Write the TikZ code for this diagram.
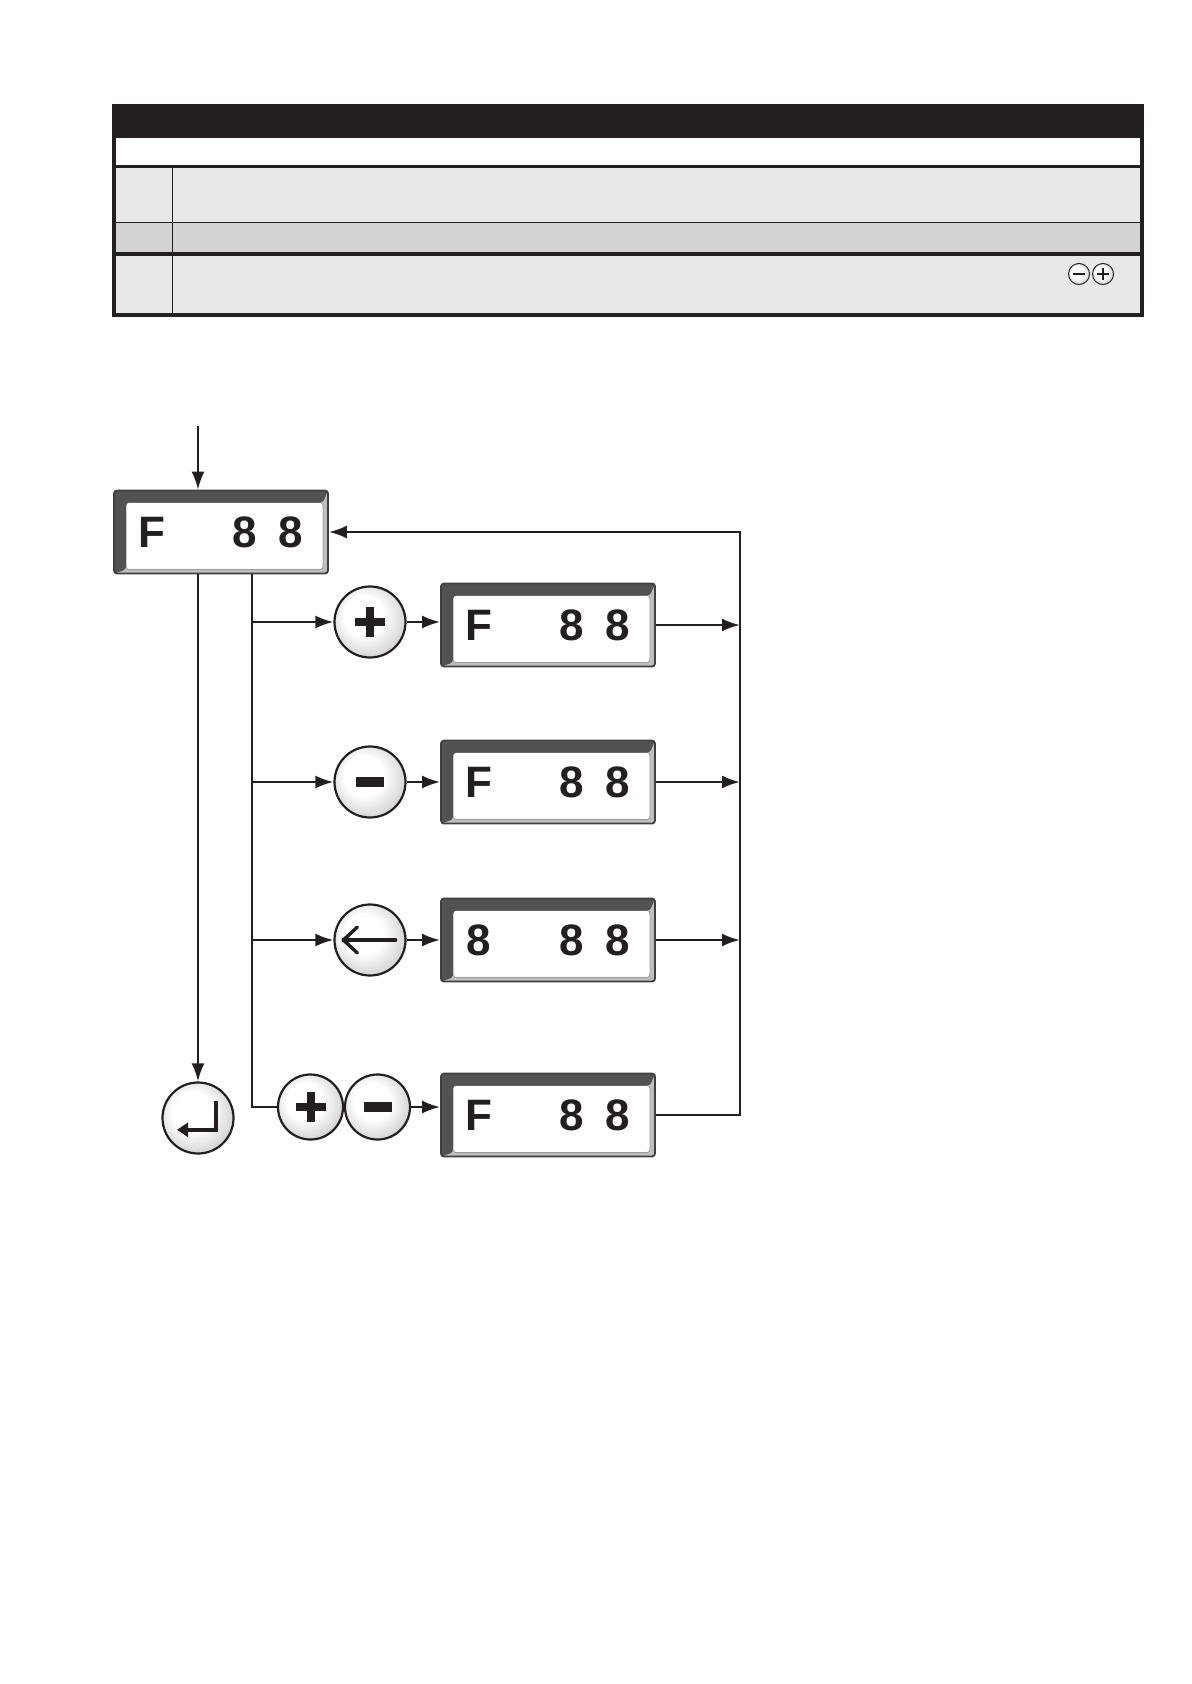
\documentclass[tikz,border=0pt]{standalone}
\usepackage{fontspec}
\setmainfont{Liberation Sans}
\usetikzlibrary{arrows.meta,calc}
\definecolor{ink}{HTML}{231F20}
\definecolor{rowlight}{HTML}{E8E8E8}
\definecolor{rowdark}{HTML}{D3D3D3}
\pgfdeclareradialshading{silver}{\pgfpoint{-6bp}{6bp}}{color(0bp)=(white); color(14bp)=(white); color(32bp)=(black!22); color(50bp)=(black!50)}
\newcommand\dispchars[2]{%
  \node[digit] (#1c1) at ([xshift=-34.5pt]#1.center) {#2};
  \node[digit] (#1c2) at ([xshift=11.75pt]#1.center) {8};
  \node[digit] (#1c3) at ([xshift=34.75pt]#1.center) {8};}
\newcommand\plussign[1]{%
  \draw[ink, line width=4pt] ([xshift=-7.5pt]#1.center) -- ([xshift=7.5pt]#1.center);
  \draw[ink, line width=4pt] ([yshift=-7.5pt]#1.center) -- ([yshift=7.5pt]#1.center);}
\newcommand\minussign[1]{%
  \fill[ink] ([xshift=-7pt,yshift=-2.3pt]#1.center) rectangle ([xshift=7pt,yshift=2.3pt]#1.center);}
\begin{document}
\begin{tikzpicture}[x=0.5pt,y=-0.5pt,
  line/.style={draw=ink, line width=1.2pt},
  arr/.style={line, -{Latex[length=9pt,width=6.5pt]}},
  digit/.style={font=\fontsize{22}{22}\selectfont\bfseries, text=ink, inner sep=0pt, anchor=center},
  btn/.style={circle, draw=ink, line width=1.1pt, minimum size=35.5pt, inner sep=0pt, shading=silver},
  btnsmall/.style={btn, minimum size=32.5pt},
  btntiny/.style={circle, draw=ink, line width=0.5pt, minimum size=10.5pt, inner sep=0pt, shading=silver},
  disp/.style={rectangle, rounded corners=1.5pt, minimum width=107pt, minimum height=41.5pt,
    inner sep=0pt, draw=black!75, line width=0.9pt, fill=black!25,
    path picture={
      \fill[white] ([xshift=6pt,yshift=-6pt]path picture bounding box.north west) rectangle ([xshift=-2.5pt,yshift=2pt]path picture bounding box.south east);
      \draw[black!40, line width=0.4pt] ([xshift=6pt,yshift=-6pt]path picture bounding box.north west) rectangle ([xshift=-2.5pt,yshift=2pt]path picture bounding box.south east);
      \fill[black!68] (path picture bounding box.north west) -- (path picture bounding box.north east)
        -- ([xshift=-2.5pt,yshift=-6pt]path picture bounding box.north east)
        -- ([xshift=6pt,yshift=-6pt]path picture bounding box.north west)
        -- ([xshift=6pt,yshift=2pt]path picture bounding box.south west)
        -- (path picture bounding box.south west) -- cycle;
    }}
]
\useasboundingbox (0,0) rectangle (1191,1684);

% ---------- table ----------
\fill[white] (114,106) rectangle (1142,315);
\fill[rowlight] (114,167) rectangle (1142,223);
\fill[rowdark] (114,223) rectangle (1142,254);
\fill[rowlight] (114,254) rectangle (1142,315);
\fill[ink] (114,106) rectangle (1142,138);
\draw[ink, line width=1.5pt] (114,167) -- (1142,167);
\draw[ink, line width=0.5pt] (114,223) -- (1142,223);
\draw[ink, line width=2pt] (114,254) -- (1142,254);
\draw[ink, line width=0.5pt] (172,167) -- (172,315);
\draw[ink, line width=2pt] (114,106) rectangle (1142,315);
\node[btntiny] (tm) at (1079,274) {};
\node[btntiny] (tp) at (1103,274) {};
\draw[ink, line width=1.1pt] ([xshift=-2.8pt]tm.center) -- ([xshift=2.8pt]tm.center);
\draw[ink, line width=1.1pt] ([xshift=-2.8pt]tp.center) -- ([xshift=2.8pt]tp.center);
\draw[ink, line width=1.1pt] ([yshift=-2.8pt]tp.center) -- ([yshift=2.8pt]tp.center);

% ---------- diagram ----------
\node[disp] (main) at (221,532) {};
\dispchars{main}{F}

\node[btn] (p1) at (370,622) {};
\node[btn] (m1) at (370,782) {};
\node[btn] (l1) at (370,940) {};
\node[btn] (e) at (198,1118) {};
\node[btnsmall] (p4) at (310.5,1107) {};
\node[btnsmall] (m4) at (377.5,1107) {};

\node[disp] (d1) at (548,625) {};
\node[disp] (d2) at (548,782) {};
\node[disp] (d3) at (548,940) {};
\node[disp] (d4) at (548,1115) {};
\dispchars{d1}{F}
\dispchars{d2}{F}
\dispchars{d3}{8}
\dispchars{d4}{F}

\plussign{p1}
\minussign{m1}
\plussign{p4}
\minussign{m4}
% left arrow symbol
\draw[ink, line width=1.7pt, line join=round, line cap=round]
  ([xshift=12.8pt]l1.center) -- ([xshift=-13.3pt]l1.center);
\draw[ink, line width=1.7pt, line join=round, line cap=round]
  ([xshift=-6.3pt,yshift=6.5pt]l1.center) -- ([xshift=-13.3pt]l1.center) -- ([xshift=-6.3pt,yshift=-6.5pt]l1.center);
% enter symbol
\draw[ink, line width=2.2pt, -{Triangle[length=5.5pt,width=7pt]}]
  ([xshift=9pt,yshift=8.3pt]e.center) -- ([xshift=9pt,yshift=-5.9pt]e.center) -- ([xshift=-10.5pt,yshift=-5.9pt]e.center);

% connectors
\coordinate (start) at (198,426);
\coordinate (bx) at (252,0);
\coordinate (rx) at (740,0);
\draw[arr] (start) -- (start |- main.north);
\draw[arr] (e.north |- main.south) -- (e.north);
\draw[line] (bx |- main.south) -- (bx |- p4.west) -- (p4.west);
\draw[arr] (bx |- p1.west) -- (p1.west);
\draw[arr] (bx |- m1.west) -- (m1.west);
\draw[arr] (bx |- l1.west) -- (l1.west);
\draw[arr] (p1.east) -- (p1.east -| d1.west);
\draw[arr] (m1.east) -- (m1.east -| d2.west);
\draw[arr] (l1.east) -- (l1.east -| d3.west);
\draw[arr] (m4.east) -- (m4.east -| d4.west);
\draw[arr] (d1.east) -- (d1.east -| rx);
\draw[arr] (d2.east) -- (d2.east -| rx);
\draw[arr] (d3.east) -- (d3.east -| rx);
\draw[arr] (d4.east) -- (d4.east -| rx) -- (rx |- main.east) -- (main.east);
\end{tikzpicture}
\end{document}
